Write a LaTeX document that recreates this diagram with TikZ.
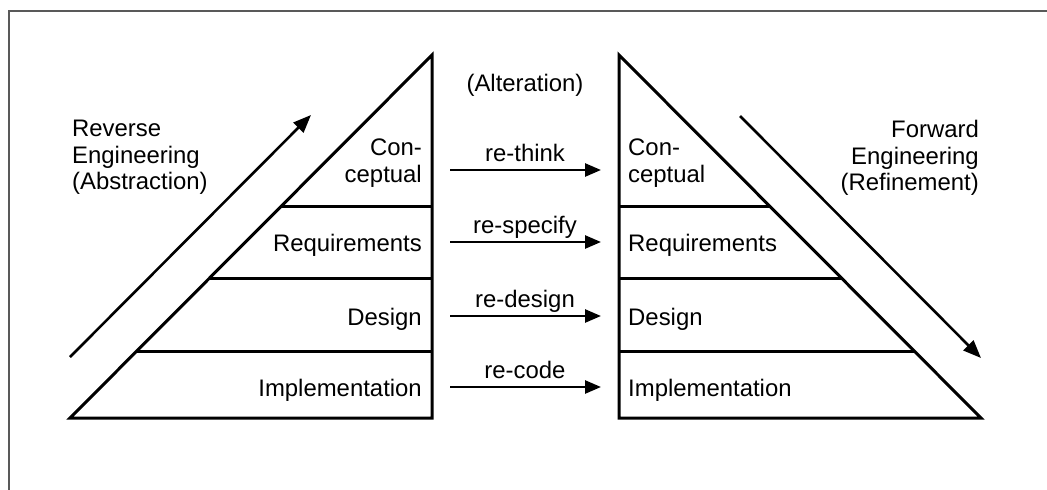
\documentclass[tikz,border=0pt]{standalone}
\usepackage{fontspec}
\setmainfont{Liberation Sans}
\usetikzlibrary{arrows.meta}
\begin{document}
\begin{tikzpicture}[x=1pt,y=-1pt,
  tri/.style={line width=3pt,line join=miter},
  layer/.style={line width=3pt},
  alt/.style={line width=2.6pt,-{Triangle[length=16pt,width=13pt]}},
  big/.style={line width=2.6pt,-{Triangle[length=18pt,width=14pt]}},
  lbl/.style={inner sep=0pt,font=\fontsize{23.9}{26.5}\selectfont},
  frame/.style={line width=1.5pt,draw=black!65}]
\useasboundingbox (0,0) rectangle (1047,490);
% frame
\coordinate (fb) at (9,490);
\coordinate (fc) at (9,11);
\coordinate (fr) at (1047,11);
\draw[frame] (fb) -- (fc) -- (fr);
% left triangle
\coordinate (LA) at (432,55);
\coordinate (LB) at (432,418);
\coordinate (LC) at (70,418);
\draw[tri] (LA) -- (LB) -- (LC) -- cycle;
\coordinate (L1) at (281.4,206); \coordinate (L1r) at (432,206);
\coordinate (L2) at (209.6,278); \coordinate (L2r) at (432,278);
\coordinate (L3) at (136.8,351); \coordinate (L3r) at (432,351);
\draw[layer] (L1) -- (L1r) (L2) -- (L2r) (L3) -- (L3r);
% right triangle
\coordinate (RA) at (619,55);
\coordinate (RB) at (619,418);
\coordinate (RC) at (981,418);
\draw[tri] (RA) -- (RC) -- (RB) -- cycle;
\coordinate (R1) at (769.6,206); \coordinate (R1l) at (619,206);
\coordinate (R2) at (841.4,278); \coordinate (R2l) at (619,278);
\coordinate (R3) at (914.2,351); \coordinate (R3l) at (619,351);
\draw[layer] (R1l) -- (R1) (R2l) -- (R2) (R3l) -- (R3);
% left layer labels
\node[lbl,anchor=base east,align=right] (lcon) at (422,182) {Con-\\ceptual};
\node[lbl,anchor=base east] (lreq) at (422,251) {Requirements};
\node[lbl,anchor=base east] (ldes) at (422,325) {Design};
\node[lbl,anchor=base east] (limp) at (422,396) {Implementation};
% right layer labels
\node[lbl,anchor=base west,align=left] (rcon) at (628,182) {Con-\\ceptual};
\node[lbl,anchor=base west] (rreq) at (628,251) {Requirements};
\node[lbl,anchor=base west] (rdes) at (628,325) {Design};
\node[lbl,anchor=base west] (rimp) at (628,396) {Implementation};
% alteration arrows
\coordinate (a1s) at (450,170); \coordinate (a1e) at (601,170);
\coordinate (a2s) at (450,242); \coordinate (a2e) at (601,242);
\coordinate (a3s) at (450,316); \coordinate (a3e) at (601,316);
\coordinate (a4s) at (450,387); \coordinate (a4e) at (601,387);
\draw[alt] (a1s) -- (a1e);
\draw[alt] (a2s) -- (a2e);
\draw[alt] (a3s) -- (a3e);
\draw[alt] (a4s) -- (a4e);
\node[lbl,anchor=base] (t1) at (525,161.5) {re-think};
\node[lbl,anchor=base] (t2) at (525,233) {re-specify};
\node[lbl,anchor=base] (t3) at (525,307) {re-design};
\node[lbl,anchor=base] (t4) at (525,378) {re-code};
\node[lbl,anchor=base] (alteration) at (525,91) {(Alteration)};
% engineering arrows
\coordinate (rev1) at (70,357); \coordinate (rev2) at (311,115);
\draw[big] (rev1) -- (rev2);
\coordinate (fwd1) at (740,116); \coordinate (fwd2) at (981,358);
\draw[big] (fwd1) -- (fwd2);
\node[lbl,anchor=north west,align=left] (revlbl) at (72,120) {Reverse\\Engineering\\(Abstraction)};
\node[lbl,anchor=north east,align=right] (fwdlbl) at (979,120) {Forward\\Engineering\\(Refinement)};
\end{tikzpicture}
\end{document}
